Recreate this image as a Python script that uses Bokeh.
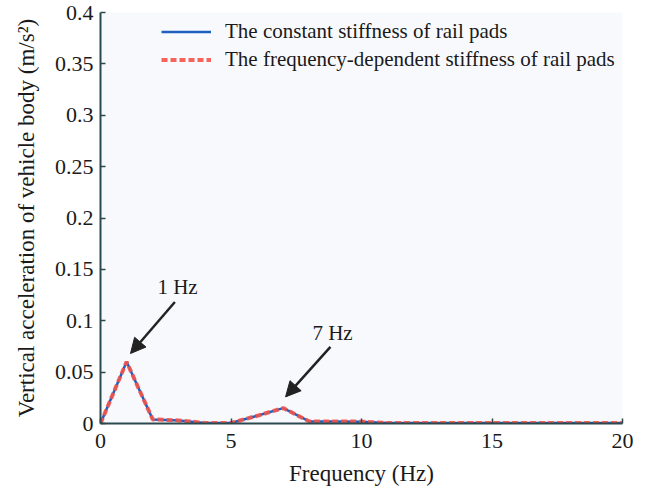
from bokeh.plotting import figure
from bokeh.models import Range1d, FixedTicker, Arrow, NormalHead, Label, Legend, LegendItem
from bokeh.embed import file_html
from bokeh.resources import INLINE

# Data
freq = [0, 1, 2, 3, 4, 5, 6, 7, 8, 9, 10, 11, 12, 13, 14, 15, 16, 17, 18, 19, 20]
acc_constant = [0.0, 0.06, 0.004, 0.003, 0.0005, 0.0005, 0.0075, 0.015, 0.002, 0.002, 0.0018,
                0.0005, 0.0005, 0.0005, 0.0005, 0.0005, 0.0005, 0.0005, 0.0005, 0.0005, 0.0005]
acc_freqdep = [0.0, 0.06, 0.004, 0.003, 0.0005, 0.0005, 0.0075, 0.015, 0.002, 0.002, 0.0018,
               0.0005, 0.0005, 0.0005, 0.0005, 0.0005, 0.0005, 0.0005, 0.0005, 0.0005, 0.0005]
x_ticks = [0, 5, 10, 15, 20]
y_ticks = [0, 0.05, 0.1, 0.15, 0.2, 0.25, 0.3, 0.35, 0.4]
y_tick_labels = ["0", "0.05", "0.1", "0.15", "0.2", "0.25", "0.3", "0.35", "0.4"]
series_names = ["The constant stiffness of rail pads",
                "The frequency-dependent stiffness of rail pads"]
annotations = ["1 Hz", "7 Hz"]
ann_text_pos = [(2.95, 0.1327), (8.89, 0.0883)]
ann_arrow_from = [(2.85, 0.1183), (8.81, 0.0745)]
ann_arrow_to = [(1.15, 0.0681), (7.09, 0.0259)]

FONT = "Liberation Serif"
AXIS_COLOR = "#2b4a4f"

p = figure(width=658, height=496, output_backend="svg", toolbar_location=None,
           x_range=Range1d(0, 20), y_range=Range1d(0, 0.4),
           min_border_left=100, min_border_right=36, min_border_top=12, min_border_bottom=73)
p.background_fill_color = "#f8f9fd"
p.border_fill_color = "white"
p.outline_line_color = None
p.grid.visible = False

r1 = p.line(freq, acc_constant, line_color="#1f5fbf", line_width=2.5)
r2 = p.line(freq, acc_freqdep, line_color="#f4544a", line_width=4, line_dash="6 3", line_alpha=0.9)

p.axis.axis_line_color = AXIS_COLOR
p.axis.axis_line_width = 2
p.axis.major_tick_line_color = AXIS_COLOR
p.axis.major_tick_line_width = 1.5
p.axis.major_tick_in = 5
p.axis.major_tick_out = 0
p.axis.minor_tick_line_color = None
p.axis.major_label_text_font = FONT
p.axis.major_label_text_font_size = "22px"
p.axis.major_label_text_color = "#1a1a1a"
p.axis.axis_label_text_font = FONT
p.axis.axis_label_text_font_size = "23px"
p.axis.axis_label_text_font_style = "normal"
p.axis.axis_label_text_color = "#1a1a1a"

p.xaxis.ticker = FixedTicker(ticks=x_ticks)
p.yaxis.ticker = FixedTicker(ticks=y_ticks)
p.yaxis.major_label_overrides = {t: l for t, l in zip(y_ticks, y_tick_labels)}
p.xaxis.axis_label = "Frequency (Hz)"
p.yaxis.axis_label = "Vertical acceleration of vehicle body (m/s\u00b2)"
p.xaxis.major_label_standoff = 10
p.yaxis.major_label_standoff = 7
p.xaxis.axis_label_standoff = 10
p.yaxis.axis_label_standoff = 13

for txt, (tx, ty), (fx, fy), (ex, ey) in zip(annotations, ann_text_pos, ann_arrow_from, ann_arrow_to):
    p.add_layout(Label(x=tx, y=ty, text=txt, text_font=FONT, text_font_size="21px",
                       text_color="#1a1a1a", text_align="center", text_baseline="middle"))
    p.add_layout(Arrow(x_start=fx, y_start=fy, x_end=ex, y_end=ey, line_width=2.5,
                       line_color="#222222",
                       end=NormalHead(size=15, fill_color="#222222", line_color="#222222")))

legend = Legend(items=[LegendItem(label=series_names[0], renderers=[r1]),
                       LegendItem(label=series_names[1], renderers=[r2])],
                location=(61, 351))
legend.label_text_font = FONT
legend.label_text_font_size = "21px"
legend.label_text_color = "#1a1a1a"
legend.glyph_width = 50
legend.glyph_height = 23
legend.label_height = 23
legend.spacing = 3
legend.label_standoff = 14
legend.padding = 0
legend.margin = 0
legend.border_line_color = None
legend.background_fill_alpha = 0
p.add_layout(legend)

open("out.html", "w").write(file_html(p, INLINE))
